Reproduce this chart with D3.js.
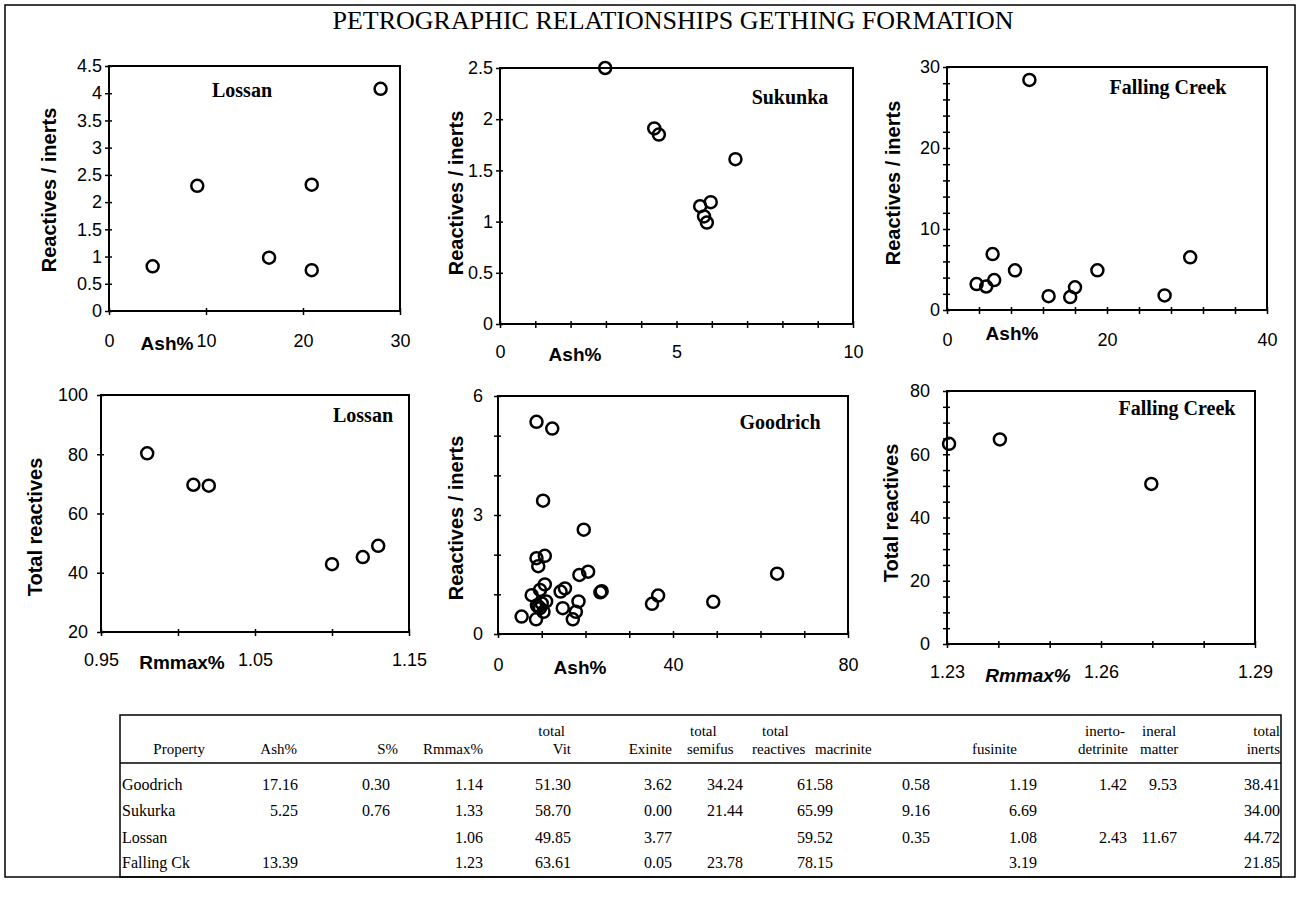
<!DOCTYPE html>
<html><head><meta charset="utf-8">
<script src="https://cdn.jsdelivr.net/npm/d3@7"></script>
<style>body{margin:0;background:#fff} svg{display:block}</style>
</head><body>
<svg id="c" width="1300" height="897"></svg>
<script>
// ---------- DATA ----------
const chartTitle = "PETROGRAPHIC RELATIONSHIPS GETHING FORMATION";

// Panel 1: Lossan, Ash% vs Reactives/inerts
const lossanAsh = [4.5, 9.1, 16.5, 20.9, 20.9, 28.0];
const lossanRI  = [0.82, 2.30, 0.98, 2.32, 0.75, 4.08];

// Panel 2: Sukunka
const sukunkaAsh = [2.98, 4.37, 4.50, 6.67, 5.67, 5.97, 5.78, 5.86];
const sukunkaRI  = [2.50, 1.91, 1.85, 1.61, 1.15, 1.19, 1.05, 0.99];

// Panel 3: Falling Creek
const fallingAsh = [10.3, 3.7, 4.9, 5.7, 5.9, 8.5, 12.7, 15.4, 16.0, 18.8, 27.2, 30.4];
const fallingRI  = [28.4, 3.2, 2.9, 6.9, 3.7, 4.9, 1.7, 1.6, 2.8, 4.9, 1.8, 6.5];

// Panel 4: Lossan, Rmmax% vs Total reactives
const lossanRm = [0.980, 1.010, 1.020, 1.100, 1.120, 1.130];
const lossanTR = [80.3, 69.7, 69.4, 42.9, 45.3, 49.1];

// Panel 5: Goodrich
const goodrichAsh = [8.8, 12.4, 10.3, 19.6, 8.8, 10.7, 9.2, 18.6, 20.6, 63.8, 23.4, 23.7,
                     36.6, 35.2, 49.2, 5.4, 7.7, 8.7, 9.6, 10.7, 14.3, 15.3, 14.8, 17.1,
                     17.8, 18.4, 9.2, 10.0, 11.0, 10.4, 9.6, 8.9];
const goodrichRI  = [5.35, 5.18, 3.36, 2.63, 1.91, 1.97, 1.71, 1.49, 1.57, 1.52, 1.05, 1.08,
                     0.97, 0.76, 0.81, 0.44, 0.98, 0.37, 1.11, 1.25, 1.07, 1.15, 0.65, 0.37,
                     0.56, 0.82, 0.69, 0.77, 0.82, 0.56, 0.65, 0.72];

// Panel 6: Falling Creek, Rmmax% vs Total reactives
const fallingRm = [1.2304, 1.2403, 1.2698];
const fallingTR = [63.3, 64.7, 50.6];

// Tick values
const p1XTicks = [0, 10, 20, 30];            const p1XLabels = ["0", "10", "20", "30"];
const p1YTicks = [0, 0.5, 1, 1.5, 2, 2.5, 3, 3.5, 4, 4.5];
const p1YLabels = ["0", "0.5", "1", "1.5", "2", "2.5", "3", "3.5", "4", "4.5"];
const p2XTicks = [0,1,2,3,4,5,6,7,8,9,10];   const p2XLabelVals = [0, 5, 10]; const p2XLabels = ["0", "5", "10"];
const p2YTicks = [0, 0.5, 1, 1.5, 2, 2.5];   const p2YLabels = ["0", "0.5", "1", "1.5", "2", "2.5"];
const p3XTicks = [0,4,8,12,16,20,24,28,32,36,40]; const p3XLabelVals = [0, 20, 40]; const p3XLabels = ["0", "20", "40"];
const p3YTicks = [0,2,4,6,8,10,12,14,16,18,20,22,24,26,28,30]; const p3YLabelVals = [0,10,20,30]; const p3YLabels = ["0","10","20","30"];
const p4XTicks = [0.95, 1.0, 1.05, 1.1, 1.15]; const p4XLabelVals = [0.95, 1.05, 1.15]; const p4XLabels = ["0.95", "1.05", "1.15"];
const p4YTicks = [20, 40, 60, 80, 100];        const p4YLabels = ["20", "40", "60", "80", "100"];
const p5XTicks = [0,10,20,30,40,50,60,70,80];  const p5XLabelVals = [0, 40, 80]; const p5XLabels = ["0", "40", "80"];
const p5YTicks = [0,1,2,3,4,5,6];              const p5YLabelVals = [0, 3, 6]; const p5YLabels = ["0", "3", "6"];
const p6XTicks = [1.23,1.24,1.25,1.26,1.27,1.28,1.29]; const p6XLabelVals = [1.23, 1.26, 1.29]; const p6XLabels = ["1.23", "1.26", "1.29"];
const p6YTicks = [0,5,10,15,20,25,30,35,40,45,50,55,60,65,70,75,80]; const p6YLabelVals = [0,20,40,60,80]; const p6YLabels = ["0","20","40","60","80"];

// Table
const tableHeader1 = ["", "", "", "", "total", "", "total", "total", "", "", "inerto-", "ineral", "total"];
const tableHeader2 = ["Property", "Ash%", "S%", "Rmmax%", "Vit", "Exinite", "semifus", "reactives", "macrinite", "fusinite", "detrinite", "matter", "inerts"];
const tableNames = ["Goodrich", "Sukurka", "Lossan", "Falling Ck"];
const tableValues = [
  ["17.16", "0.30", "1.14", "51.30", "3.62", "34.24", "61.58", "0.58", "1.19", "1.42", "9.53", "38.41"],
  ["5.25",  "0.76", "1.33", "58.70", "0.00", "21.44", "65.99", "9.16", "6.69", "",     "",      "34.00"],
  ["",      "",     "1.06", "49.85", "3.77", "",      "59.52", "0.35", "1.08", "2.43", "11.67", "44.72"],
  ["13.39", "",     "1.23", "63.61", "0.05", "23.78", "78.15", "",     "3.19", "",     "",      "21.85"]
];

// ---------- DRAW ----------
const svg = d3.select("#c");
const SANS = "'Liberation Sans', Arial, sans-serif";
const SERIF = "'Liberation Serif', 'Times New Roman', serif";
const TICK_FS = 18, XT_FS = 19, YT_FS = 20, NAME_FS = 20, TABLE_FS = 16;

// outer frame
svg.append("rect").attr("x", 5).attr("y", 5).attr("width", 1290).attr("height", 872)
  .attr("fill", "none").attr("stroke", "#000").attr("stroke-width", 1.5);

svg.append("text").attr("x", 673).attr("y", 29).attr("text-anchor", "middle")
  .attr("font-family", SERIF).attr("font-size", 26).text(chartTitle);

const panels = [
  {box:[109,400,66,311], xd:[0,30], yd:[0,4.5], xs:lossanAsh, ys:lossanRI,
   xt:p1XTicks, xlv:p1XTicks, xl:p1XLabels, yt:p1YTicks, ylv:p1YTicks, yl:p1YLabels,
   name:"Lossan", nx:242, ny:97, xt_title:"Ash%", xtx:167, xty:350, xItalic:false,
   yTitle:"Reactives / inerts", ytx:51, yty:190, xlabY:30, ylabGap:7},
  {box:[500,853,68,324], xd:[0,10], yd:[0,2.5], xs:sukunkaAsh, ys:sukunkaRI,
   xt:p2XTicks, xlv:p2XLabelVals, xl:p2XLabels, yt:p2YTicks, ylv:p2YTicks, yl:p2YLabels,
   name:"Sukunka", nx:790, ny:104, xt_title:"Ash%", xtx:575, xty:361, xItalic:false,
   yTitle:"Reactives / inerts", ytx:458, yty:193, xlabY:28, ylabGap:7},
  {box:[947,1267,67,310], xd:[0,40], yd:[0,30], xs:fallingAsh, ys:fallingRI,
   xt:p3XTicks, xlv:p3XLabelVals, xl:p3XLabels, yt:p3YTicks, ylv:p3YLabelVals, yl:p3YLabels,
   name:"Falling Creek", nx:1168, ny:94, xt_title:"Ash%", xtx:1012, xty:340, xItalic:false,
   yTitle:"Reactives / inerts", ytx:895, yty:183, xlabY:30, ylabGap:7},
  {box:[101,409,395,632], xd:[0.95,1.15], yd:[20,100], xs:lossanRm, ys:lossanTR,
   xt:p4XTicks, xlv:p4XLabelVals, xl:p4XLabels, yt:p4YTicks, ylv:p4YTicks, yl:p4YLabels,
   name:"Lossan", nx:363, ny:422, xt_title:"Rmmax%", xtx:182, xty:669, xItalic:false,
   yTitle:"Total reactives", ytx:37, yty:527, xlabY:28, ylabGap:13},
  {box:[498,848,396,634], xd:[0,80], yd:[0,6], xs:goodrichAsh, ys:goodrichRI,
   xt:p5XTicks, xlv:p5XLabelVals, xl:p5XLabels, yt:p5YTicks, ylv:p5YLabelVals, yl:p5YLabels,
   name:"Goodrich", nx:780, ny:429, xt_title:"Ash%", xtx:580, xty:674, xItalic:false,
   yTitle:"Reactives / inerts", ytx:458, yty:518, xlabY:31, ylabGap:15},
  {box:[947,1255,391,644], xd:[1.23,1.29], yd:[0,80], xs:fallingRm, ys:fallingTR,
   xt:p6XTicks, xlv:p6XLabelVals, xl:p6XLabels, yt:p6YTicks, ylv:p6YLabelVals, yl:p6YLabels,
   name:"Falling Creek", nx:1177, ny:415, xt_title:"Rmmax%", xtx:1028, xty:682, xItalic:true,
   yTitle:"Total reactives", ytx:893, yty:513, xlabY:28, ylabGap:17}
];

panels.forEach(p => {
  const [x0, x1, y0, y1] = p.box;
  const x = d3.scaleLinear().domain(p.xd).range([x0, x1]);
  const y = d3.scaleLinear().domain(p.yd).range([y1, y0]);
  const g = svg.append("g");

  // tick marks (crossing axis)
  const gxT = g.append("g").attr("transform", `translate(0,${y1})`)
    .call(d3.axisBottom(x).tickValues(p.xt).tickSizeInner(4).tickSizeOuter(0).tickFormat(""));
  gxT.select(".domain").remove();
  gxT.selectAll("line").attr("y1", -3).attr("y2", 4).attr("stroke-width", 1.5);
  const gyT = g.append("g").attr("transform", `translate(${x0},0)`)
    .call(d3.axisLeft(y).tickValues(p.yt).tickSizeInner(4).tickSizeOuter(0).tickFormat(""));
  gyT.select(".domain").remove();
  gyT.selectAll("line").attr("x1", 3).attr("x2", -4).attr("stroke-width", 1.5);

  // tick labels
  const gxL = g.append("g").attr("transform", `translate(0,${y1})`)
    .call(d3.axisBottom(x).tickValues(p.xlv).tickSize(0).tickPadding(p.xlabY - 0.36 * TICK_FS)
      .tickFormat((d, i) => p.xl[i]));
  gxL.select(".domain").remove();
  gxL.selectAll("text").attr("font-family", SANS).attr("font-size", TICK_FS).attr("fill", "#000");
  const gyL = g.append("g").attr("transform", `translate(${x0},0)`)
    .call(d3.axisLeft(y).tickValues(p.ylv).tickSize(0).tickPadding(p.ylabGap)
      .tickFormat((d, i) => p.yl[i]));
  gyL.select(".domain").remove();
  gyL.selectAll("text").attr("font-family", SANS).attr("font-size", TICK_FS).attr("fill", "#000");

  // frame
  g.append("rect").attr("x", x0).attr("y", y0).attr("width", x1 - x0).attr("height", y1 - y0)
    .attr("fill", "none").attr("stroke", "#000").attr("stroke-width", 2);

  // axis titles
  g.append("text").attr("x", p.xtx).attr("y", p.xty).attr("text-anchor", "middle")
    .attr("font-family", SANS).attr("font-size", XT_FS).attr("font-weight", "bold")
    .attr("font-style", p.xItalic ? "italic" : "normal").text(p.xt_title);
  g.append("text").attr("transform", `translate(${p.ytx},${p.yty}) rotate(-90)`)
    .attr("text-anchor", "middle").attr("dominant-baseline", "middle")
    .attr("font-family", SANS).attr("font-size", YT_FS).attr("font-weight", "bold").text(p.yTitle);

  // panel name
  g.append("text").attr("x", p.nx).attr("y", p.ny).attr("text-anchor", "middle")
    .attr("font-family", SERIF).attr("font-size", NAME_FS).attr("font-weight", "bold").text(p.name);

  // points
  g.selectAll("circle.pt").data(p.xs.map((v, i) => [v, p.ys[i]])).enter().append("circle")
    .attr("cx", d => x(d[0])).attr("cy", d => y(d[1])).attr("r", 6)
    .attr("fill", "none").attr("stroke", "#000").attr("stroke-width", 2.5);
});

// ---------- TABLE ----------
const tbl = svg.append("g");
const tL = 120, tR = 1281, tTop = 715, tHead = 763, tBot = 877;
tbl.append("rect").attr("x", tL).attr("y", tTop).attr("width", tR - tL).attr("height", tBot - tTop)
  .attr("fill", "none").attr("stroke", "#000").attr("stroke-width", 1.5);
tbl.append("line").attr("x1", tL).attr("x2", tR).attr("y1", tHead).attr("y2", tHead)
  .attr("stroke", "#000").attr("stroke-width", 1.5);

const h1Pos = [null, null, null, null, [565,"end"], null, [690,"start"], [762,"start"], null, null, [1085,"start"], [1142,"start"], [1280,"end"]];
const h2Pos = [[205,"end"], [297,"end"], [398,"end"], [483,"end"], [571,"end"], [672,"end"], [687,"start"], [752,"start"], [815,"start"], [972,"start"], [1078,"start"], [1140,"start"], [1280,"end"]];
tableHeader1.forEach((t, i) => {
  if (!t) return;
  tbl.append("text").attr("x", h1Pos[i][0]).attr("y", 736).attr("text-anchor", h1Pos[i][1])
    .attr("font-family", SERIF).attr("font-size", 15).text(t);
});
tableHeader2.forEach((t, i) => {
  tbl.append("text").attr("x", h2Pos[i][0]).attr("y", 754).attr("text-anchor", h2Pos[i][1])
    .attr("font-family", SERIF).attr("font-size", 15).text(t);
});
const colRight = [298, 390, 483, 571, 672, 743, 833, 930, 1037, 1127, 1177, 1280];
const rowY = [790, 816, 843, 868];
tableNames.forEach((n, r) => {
  tbl.append("text").attr("x", 122).attr("y", rowY[r]).attr("font-family", SERIF).attr("font-size", TABLE_FS).text(n);
  tableValues[r].forEach((v, c) => {
    if (!v) return;
    tbl.append("text").attr("x", colRight[c]).attr("y", rowY[r]).attr("text-anchor", "end")
      .attr("font-family", SERIF).attr("font-size", TABLE_FS).text(v);
  });
});
</script>
</body></html>
